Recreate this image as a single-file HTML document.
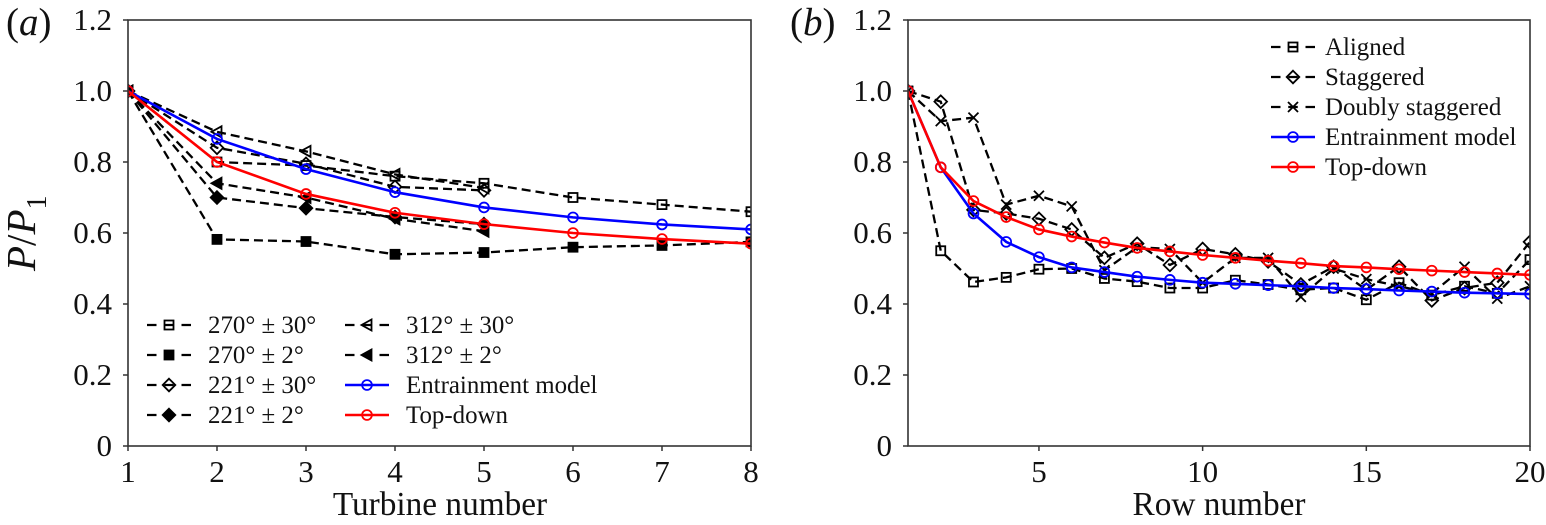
<!DOCTYPE html>
<html lang="en">
<head>
<meta charset="utf-8">
<title>Power ratio charts</title>
<style>
html,body{margin:0;padding:0;background:#fff;width:1546px;height:525px;overflow:hidden}
svg{display:block}
text{font-family:"Liberation Serif",serif;fill:#111}
</style>
</head>
<body>
<svg id="chart" xmlns="http://www.w3.org/2000/svg" width="1546" height="525" viewBox="0 0 1546 525">
<defs>
<clipPath id="clip-a"><rect x="128" y="20" width="623" height="426"/></clipPath>
<clipPath id="clip-b"><rect x="908" y="20" width="622" height="426"/></clipPath>
</defs>
</svg>
<script>
const turbineCategories = [1, 2, 3, 4, 5, 6, 7, 8];
const rowCategories = [1, 2, 3, 4, 5, 6, 7, 8, 9, 10, 11, 12, 13, 14, 15, 16, 17, 18, 19, 20];
const yTickValues = [0, 0.2, 0.4, 0.6, 0.8, 1.0, 1.2];
const yTickLabels = ["0", "0.2", "0.4", "0.6", "0.8", "1.0", "1.2"];
const rowTickValues = [5, 10, 15, 20];

const a270wide = [1, 0.80, 0.79, 0.76, 0.74, 0.70, 0.68, 0.66];
const a270narrow = [1, 0.582, 0.576, 0.54, 0.545, 0.56, 0.565, 0.575];
const a221wide = [1, 0.84, 0.795, 0.73, 0.72];
const a221narrow = [1, 0.70, 0.67, 0.645, 0.625];
const a312wide = [1, 0.885, 0.83, 0.765, 0.727];
const a312narrow = [1, 0.74, 0.70, 0.64, 0.605];
const aEntrainment = [1, 0.865, 0.78, 0.715, 0.672, 0.644, 0.624, 0.61];
const aTopDown = [1, 0.80, 0.71, 0.657, 0.625, 0.60, 0.583, 0.57];

const bAligned = [1, 0.55, 0.462, 0.475, 0.498, 0.50, 0.472, 0.463, 0.445, 0.445, 0.467, 0.455, 0.44, 0.445, 0.412, 0.46, 0.425, 0.45, 0.43, 0.525];
const bStaggered = [1, 0.97, 0.665, 0.655, 0.64, 0.61, 0.53, 0.57, 0.51, 0.555, 0.54, 0.52, 0.455, 0.505, 0.44, 0.505, 0.41, 0.445, 0.46, 0.575];
const bDoubly = [1, 0.915, 0.925, 0.68, 0.705, 0.675, 0.495, 0.56, 0.555, 0.46, 0.53, 0.53, 0.42, 0.50, 0.47, 0.45, 0.43, 0.505, 0.415, 0.45];
const bEntrainment = [1, 0.785, 0.655, 0.575, 0.532, 0.503, 0.49, 0.477, 0.468, 0.46, 0.457, 0.453, 0.45, 0.445, 0.442, 0.438, 0.435, 0.432, 0.43, 0.428];
const bTopDown = [1, 0.785, 0.69, 0.645, 0.61, 0.59, 0.573, 0.558, 0.548, 0.538, 0.53, 0.522, 0.515, 0.507, 0.503, 0.498, 0.494, 0.49, 0.486, 0.482];

const NS = "http://www.w3.org/2000/svg";
const root = document.getElementById("chart");
const yScale = v => 446 - v * 355;
const xA = v => 128 + (v - 1) * (751 - 128) / 7;
const xB = v => 908 + (v - 1) * (1530 - 908) / 19;

function make(tag, parent, props, label) {
  const el = document.createElementNS(NS, tag);
  for (const k in props) el.setAttribute(k, props[k]);
  
  
  parent.appendChild(el);
  return el;
}

function drawMarker(g, kind, x, y, color, label) {
  const s = { fill: kind.endsWith("F") ? color : "none", stroke: color, "stroke-width": 1.8 };
  if (kind === "circle") {
    make("circle", g, Object.assign({ cx: x, cy: y, r: 4.9 }, s), label);
  } else if (kind.startsWith("square")) {
    make("rect", g, Object.assign({ x: x - 4.5, y: y - 4.5, width: 9, height: 9 }, s), label);
  } else if (kind.startsWith("diamond")) {
    make("polygon", g, Object.assign({ points: [[x, y - 6.3], [x + 6.3, y], [x, y + 6.3], [x - 6.3, y]].join(" ") }, s), label);
  } else if (kind.startsWith("tri")) {
    make("polygon", g, Object.assign({ points: [[x - 5.5, y], [x + 4.5, y - 5.5], [x + 4.5, y + 5.5]].join(" ") }, s), label);
  } else if (kind === "cross") {
    make("path", g, Object.assign({ d: `M${x - 5} ${y - 5}L${x + 5} ${y + 5}M${x - 5} ${y + 5}L${x + 5} ${y - 5}` }, s), label);
  }
}

function drawSeries(parent, xf, cats, vals, s, clipId) {
  const g = make("g", parent, { "clip-path": "url(#" + clipId + ")" }, "series-" + s.id);
  const pts = vals.map((v, i) => xf(cats[i]) + "," + yScale(v)).join(" ");
  make("polyline", g, {
    points: pts, fill: "none", stroke: s.color,
    "stroke-width": s.dashed ? 2.3 : 2.6,
    "stroke-dasharray": s.dashed ? "9 5" : "none"
  }, "line-" + s.id);
  vals.forEach((v, i) => drawMarker(g, s.marker, xf(cats[i]), yScale(v), s.color, "point-" + s.id));
}

function drawAxes(parent, x0, x1, xf, xVals, xLabels, xTitle, xTitleX, prefix) {
  const g = make("g", parent, {}, prefix + "-axes");
  make("rect", g, { x: x0, y: 20, width: x1 - x0, height: 426, fill: "none", stroke: "#333", "stroke-width": 1.6 }, prefix + "-frame");
  yTickValues.forEach((v, i) => {
    make("line", g, { x1: x0 - 5, x2: x0, y1: yScale(v), y2: yScale(v), stroke: "#333", "stroke-width": 1.5 }, prefix + "-y-tick");
    const t = make("text", g, { x: x0 - 16, y: yScale(v) + 10, "text-anchor": "end", "font-size": 31 }, prefix + "-y-tick-label");
    t.textContent = yTickLabels[i];
  });
  xVals.forEach((v, i) => {
    make("line", g, { x1: xf(v), x2: xf(v), y1: 446, y2: 451, stroke: "#333", "stroke-width": 1.5 }, prefix + "-x-tick");
    const t = make("text", g, { x: xf(v), y: 482, "text-anchor": "middle", "font-size": 31 }, prefix + "-x-tick-label");
    t.textContent = xLabels[i];
  });
  const tt = make("text", g, { x: xTitleX, y: 515, "text-anchor": "middle", "font-size": 33.3 }, prefix + "-x-axis-title");
  tt.textContent = xTitle;
}

function drawLegendEntry(parent, x, y, s, label, prefix) {
  const g = make("g", parent, {}, prefix + "-legend-entry");
  make("line", g, {
    x1: x, x2: x + 44, y1: y, y2: y, stroke: s.color,
    "stroke-width": s.dashed ? 2.3 : 2.6,
    "stroke-dasharray": s.dashed ? "9.5 7.75" : "none"
  }, prefix + "-legend-line");
  drawMarker(g, s.marker, x + 22, y, s.color, prefix + "-legend-marker");
  const t = make("text", g, { x: x + s.textGap, y: y + 8, "font-size": 24.9 }, prefix + "-legend-label");
  t.textContent = label;
}

/* ---------- panel a ---------- */
const panelA = make("g", root, {}, "panel-a");
const aSeries = [
  { id: "270-wide", vals: a270wide, marker: "square", color: "#000", dashed: true },
  { id: "270-narrow", vals: a270narrow, marker: "squareF", color: "#000", dashed: true },
  { id: "221-wide", vals: a221wide, marker: "diamond", color: "#000", dashed: true },
  { id: "221-narrow", vals: a221narrow, marker: "diamondF", color: "#000", dashed: true },
  { id: "312-wide", vals: a312wide, marker: "tri", color: "#000", dashed: true },
  { id: "312-narrow", vals: a312narrow, marker: "triF", color: "#000", dashed: true },
  { id: "entrainment", vals: aEntrainment, marker: "circle", color: "#0000ff", dashed: false },
  { id: "top-down", vals: aTopDown, marker: "circle", color: "#ff0000", dashed: false }
];
aSeries.forEach(s => drawSeries(panelA, xA, turbineCategories, s.vals, s, "clip-a"));
drawAxes(panelA, 128, 751, xA, turbineCategories, turbineCategories.map(String), "Turbine number", 440, "panel-a");

const aLegend = make("g", panelA, {}, "panel-a-legend");
const aLabels = ["270° ± 30°", "270° ± 2°", "221° ± 30°", "221° ± 2°", "312° ± 30°", "312° ± 2°", "Entrainment model", "Top-down"];
aSeries.forEach((s, i) => {
  const col = i < 4 ? 147 : 345;
  const row = 325 + (i % 4) * 30;
  drawLegendEntry(aLegend, col, row, Object.assign({ textGap: 61 }, s), aLabels[i], "panel-a");
});

const labelA = make("text", panelA, { x: 6, y: 35, "font-size": 39 }, "panel-a-label");
labelA.innerHTML = '(<tspan font-style="italic">a</tspan>)';

const yTitle = make("text", panelA, { transform: "translate(35,271) rotate(-90)", "font-size": 41 }, "y-axis-title");
yTitle.innerHTML = '<tspan font-style="italic">P</tspan>/<tspan font-style="italic">P</tspan><tspan font-size="28" dy="11">1</tspan>';

/* ---------- panel b ---------- */
const panelB = make("g", root, {}, "panel-b");
const bSeries = [
  { id: "aligned", vals: bAligned, marker: "square", color: "#000", dashed: true },
  { id: "staggered", vals: bStaggered, marker: "diamond", color: "#000", dashed: true },
  { id: "doubly-staggered", vals: bDoubly, marker: "cross", color: "#000", dashed: true },
  { id: "entrainment", vals: bEntrainment, marker: "circle", color: "#0000ff", dashed: false },
  { id: "top-down", vals: bTopDown, marker: "circle", color: "#ff0000", dashed: false }
];
bSeries.forEach(s => drawSeries(panelB, xB, rowCategories, s.vals, s, "clip-b"));
drawAxes(panelB, 908, 1530, xB, rowTickValues, rowTickValues.map(String), "Row number", 1219, "panel-b");

const bLegend = make("g", panelB, {}, "panel-b-legend");
const bLabels = ["Aligned", "Staggered", "Doubly staggered", "Entrainment model", "Top-down"];
bSeries.forEach((s, i) => {
  drawLegendEntry(bLegend, 1271, 47 + i * 30, Object.assign({ textGap: 54 }, s), bLabels[i], "panel-b");
});

const labelB = make("text", panelB, { x: 790, y: 35, "font-size": 39 }, "panel-b-label");
labelB.innerHTML = '(<tspan font-style="italic">b</tspan>)';
</script>
</body>
</html>
